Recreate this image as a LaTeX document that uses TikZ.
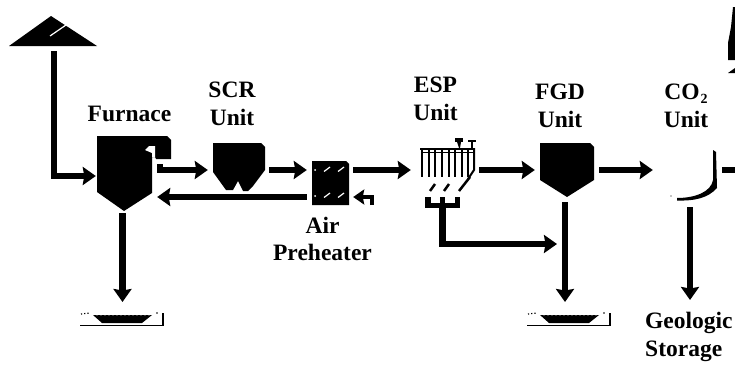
\documentclass[tikz,border=0pt]{standalone}
\usepackage{fontspec}
\setmainfont{Liberation Serif}
\usetikzlibrary{arrows.meta}

\tikzset{
  flow/.style={line width=6.5pt, -{Stealth[length=13pt,width=18pt,inset=1.5pt]}},
  plain flow/.style={line width=6pt},
  small flow/.style={line width=4.5pt, -{Stealth[length=11pt,width=15pt,inset=1.5pt]}},
  unit/.style={inner sep=0pt, draw=none},
  label/.style={font=\fontsize{23.5}{27.5}\selectfont\bfseries, align=center, inner sep=0pt},
  shine/.style={white, line width=1.2pt},
  thin part/.style={line width=2pt},
}

\begin{document}
\begin{tikzpicture}[x=1pt,y=-1pt]

\path [use as bounding box] (0,0) rectangle (735,364);

% UNITS
\node [unit, minimum width=88pt, minimum height=36pt] (coal) at (54,33) {};
\node [unit, minimum width=61pt, minimum height=74pt] (furnace) at (126.5,176) {};
\node [unit, minimum width=61pt, minimum height=60pt] (scr) at (238.5,170) {};
\node [unit, minimum width=46pt, minimum height=72pt] (ap) at (330,170) {};
\node [unit, minimum width=68pt, minimum height=60pt] (esp) at (445,170) {};
\node [unit, minimum width=36pt, minimum height=12pt] (hopper) at (442.5,202) {};
\node [unit, minimum width=64pt, minimum height=64pt] (fgd) at (567,170) {};
\node [unit, minimum width=69pt, minimum height=74pt] (co2) at (687.5,170) {};

% PORTS
\coordinate (bin1) at (122.5,302);
\coordinate (bin2) at (565,302);
\coordinate (geotip) at (690,300);
\coordinate (join) at (557,244);
\coordinate (airin) at (372,205);
\coordinate (stackline) at (735,170);

% COAL PILE
\fill (51,16) -- (97,46) -- (9,46) -- cycle;
\draw [shine] (50,36) -- (66,25);

% FURNACE
\fill (97,136) -- (167,136) -- (171,140) -- (171,159) -- (156,159) -- (155,157) -- (152,157)
  -- (152,193) -- (124,211) -- (97,192) -- cycle;
\fill [white] (145,150) -- (149,146) -- (155,146) -- (155,157) -- (152,157) -- (152,153) -- cycle;
\fill (157,164) rectangle (163,172);

% SCR
\fill (213,143) -- (261,143) -- (265,147) -- (265,170) -- (253,186) -- (248,191) -- (243,191)
  -- (238,181) -- (233,190) -- (226,190) -- (213,172) -- cycle;

% AIR PREHEATER
\fill (312,161) -- (346,161) -- (349,164) -- (349,205) -- (312,205) -- cycle;
\foreach \y in {170,196} {
  \fill [white] (315,\y) circle (1pt);
  \draw [shine] (324,\y+1.5) -- (330,\y-3);
  \draw [shine] (338,\y+1.5) -- (344,\y-3);
}

% ESP
\foreach \x in {422,428.5,435,442,448.5,455,461.5,468} {
  \draw [thin part] (\x,148) -- (\x,177);
}
\draw [thin part] (420,148.5) -- (474,148.5);
\draw [line width=1.2pt] (422,152.5) -- (473,152.5);
\draw [thin part] (474,148) -- (474,170) -- (468,179);
\fill (455,138) rectangle (463,142);
\fill (457,142) -- (461,142) -- (460,148) -- (459,148) -- cycle;
\draw [thin part] (468,141) -- (476,141);
\draw [thin part] (472,141) -- (472,148);
\draw [line width=2.5pt] (430,191) -- (435,184);
\draw [line width=2.5pt] (444,191) -- (449,184);
\draw [line width=2.5pt] (459,191) -- (470,177);
\fill (425,197) rectangle (431,208);
\fill (440,197) rectangle (445,208);
\fill (455,197) rectangle (460,208);
\fill (425,203) rectangle (460,208);

% FGD
\fill (540,143) -- (590,143) -- (594,147) -- (594,180) -- (567,197) -- (540,180) -- cycle;

% CO2 UNIT
\fill (713,150) -- (716,152) -- (717,188) .. controls (708,198) and (695,201) .. (677,200.5)
  -- (677,198) .. controls (695,198) and (711,192) .. (713,180) -- cycle;
\fill (671,196) circle (0.7pt);

% STACK
\fill (733,7) -- (735,7) -- (735,60) -- (728,60) -- (728,43) -- (731,27) -- cycle;
\fill (728,73) -- (735,68) -- (735,73) -- cycle;

% ASH BINS
\foreach \s in {0,447} {
  \begin{scope}[xshift=\s pt]
    \draw [line width=1.5pt] (80,325.5) -- (163,325.5) -- (163,313);
    \fill (93,315) -- (152,315) -- (142,323) -- (102,323) -- cycle;
    \foreach \d in {97,101,...,149} {
      \fill [white] (\d,314.8) circle (0.9pt);
    }
    \draw [line width=1.2pt, dotted] (81,314) -- (90,313);
    \fill (157,313) circle (0.9pt);
  \end{scope}
}

% TEXT
\node [label] (furnacetext) at (129.5,114) {Furnace};
\node [label] (scrtext) at (232,104) {SCR\\Unit};
\node [label] (esptext) at (435.5,99) {ESP\\Unit};
\node [label] (fgdtext) at (560,106) {FGD\\Unit};
\node [label] (co2text) at (686,106) {CO\kern1pt\raisebox{-4pt}{\fontsize{14}{14}\selectfont 2}\\Unit};
\node [label] (aptext) at (322.5,239) {Air\\Preheater};
\node [label, align=left, anchor=north west] (geo) at (645,312) {Geologic\\Storage};

% FLOWS
\draw [flow] (coal.south) |- (furnace.west);
\draw [flow] (furnace.east |- scr.west) -- (scr.west);
\draw [flow] (scr.east) -- (ap.west);
\draw [flow] ([yshift=-27pt]ap.west) -- ([yshift=-27pt]ap.west -| furnace.east);
\draw [small flow] (airin) |- ([yshift=-27pt]ap.east);
\draw [flow] (ap.east) -- (esp.west);
\draw [flow] (esp.east) -- (fgd.west);
\draw [flow] (fgd.east) -- (co2.west);
\draw [plain flow] (co2.east) -- (stackline);
\draw [flow] (hopper.south) |- (join);
\draw [flow] (bin1 |- furnace.south) -- (bin1);
\draw [flow] (bin2 |- fgd.south) -- (bin2);
\draw [flow] (co2.south -| geotip) -- (geotip);

\end{tikzpicture}
\end{document}
